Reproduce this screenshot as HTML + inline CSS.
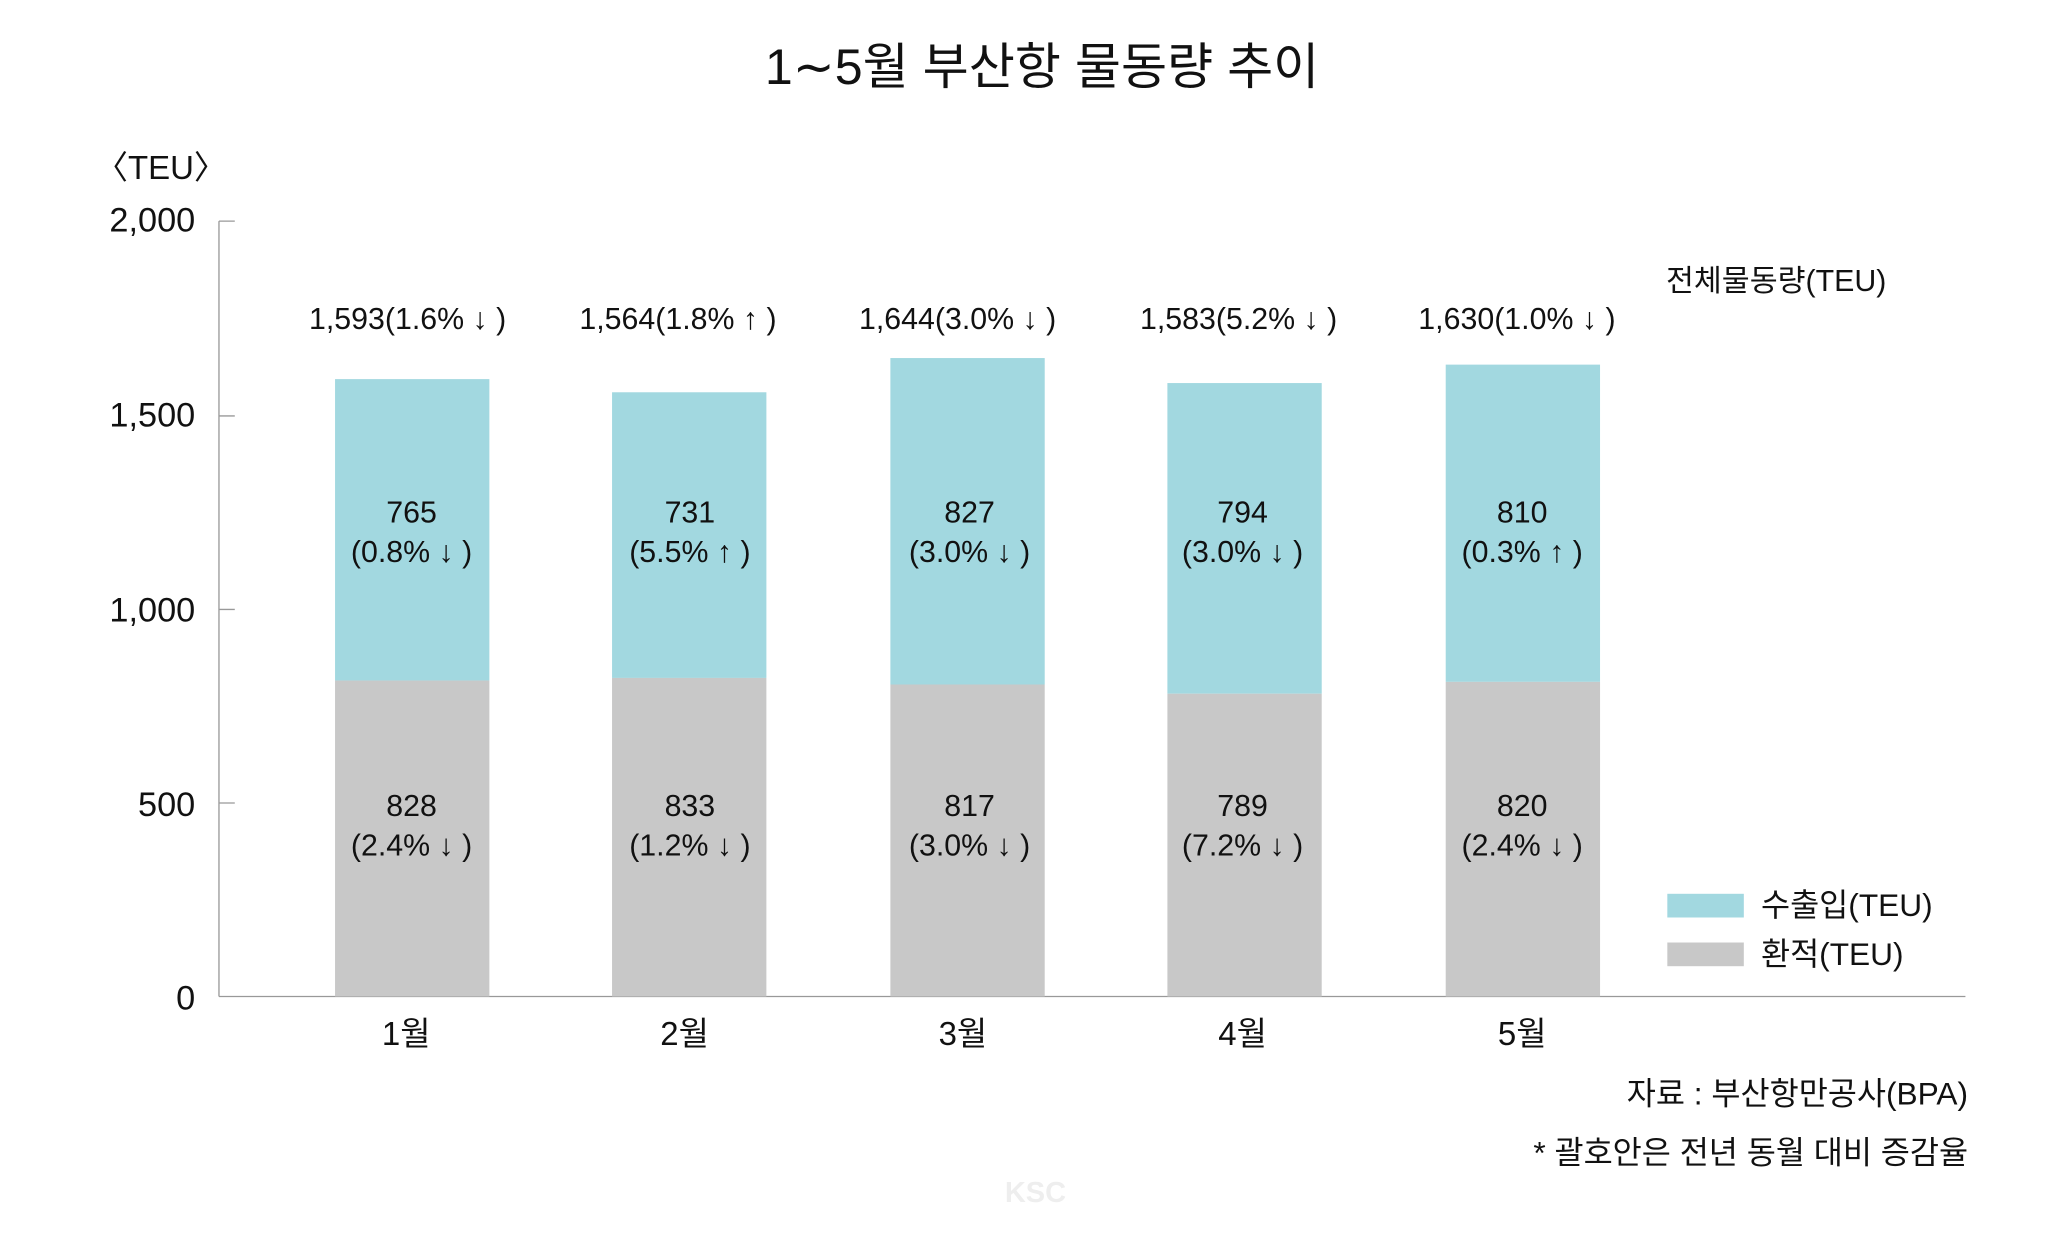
<!DOCTYPE html>
<html><head><meta charset="utf-8"><style>
html,body{margin:0;padding:0;background:#fff;}
svg{display:block;}
text{font-family:"Liberation Sans","Noto Sans CJK KR",sans-serif;fill:#111;}
</style></head><body>
<svg width="2067" height="1240" viewBox="0 0 1567 942" preserveAspectRatio="none" xmlns="http://www.w3.org/2000/svg">
<text x="790" y="64" font-size="38" text-anchor="middle">1∼5월 부산항 물동량 추이</text>
<text x="72" y="136" font-size="25">〈TEU〉</text>
<g font-size="26" text-anchor="end">
<text x="148" y="176">2,000</text>
<text x="148" y="324">1,500</text>
<text x="148" y="472">1,000</text>
<text x="148" y="620">500</text>
<text x="148" y="767">0</text>
</g>
<g stroke="#999" stroke-width="1">
<line x1="166" y1="168" x2="166" y2="757"/>
<line x1="166" y1="757" x2="1490" y2="757"/>
<line x1="166" y1="168" x2="178" y2="168"/>
<line x1="166" y1="316" x2="178" y2="316"/>
<line x1="166" y1="463" x2="178" y2="463"/>
<line x1="166" y1="610" x2="178" y2="610"/>
</g>
<g>
<rect x="254" y="288" width="117" height="229" fill="#a2d8e0"/><rect x="254" y="517" width="117" height="240" fill="#c8c8c8"/>
<rect x="464" y="298" width="117" height="217" fill="#a2d8e0"/><rect x="464" y="515" width="117" height="242" fill="#c8c8c8"/>
<rect x="675" y="272" width="117" height="248" fill="#a2d8e0"/><rect x="675" y="520" width="117" height="237" fill="#c8c8c8"/>
<rect x="885" y="291" width="117" height="236" fill="#a2d8e0"/><rect x="885" y="527" width="117" height="230" fill="#c8c8c8"/>
<rect x="1096" y="277" width="117" height="241" fill="#a2d8e0"/><rect x="1096" y="518" width="117" height="239" fill="#c8c8c8"/>
</g>
<g font-size="23" text-anchor="middle">
<text x="309" y="250">1,593(1.6% ↓ )</text>
<text x="514" y="250">1,564(1.8% ↑ )</text>
<text x="726" y="250">1,644(3.0% ↓ )</text>
<text x="939" y="250">1,583(5.2% ↓ )</text>
<text x="1150" y="250">1,630(1.0% ↓ )</text>
<text x="312" y="397">765</text><text x="312" y="427">(0.8% ↓ )</text>
<text x="523" y="397">731</text><text x="523" y="427">(5.5% ↑ )</text>
<text x="735" y="397">827</text><text x="735" y="427">(3.0% ↓ )</text>
<text x="942" y="397">794</text><text x="942" y="427">(3.0% ↓ )</text>
<text x="1154" y="397">810</text><text x="1154" y="427">(0.3% ↑ )</text>
<text x="312" y="620">828</text><text x="312" y="650">(2.4% ↓ )</text>
<text x="523" y="620">833</text><text x="523" y="650">(1.2% ↓ )</text>
<text x="735" y="620">817</text><text x="735" y="650">(3.0% ↓ )</text>
<text x="942" y="620">789</text><text x="942" y="650">(7.2% ↓ )</text>
<text x="1154" y="620">820</text><text x="1154" y="650">(2.4% ↓ )</text>
</g>
<g font-size="25" text-anchor="middle">
<text x="308" y="794">1월</text><text x="519" y="794">2월</text><text x="730" y="794">3월</text><text x="942" y="794">4월</text><text x="1154" y="794">5월</text>
</g>
<text x="1263" y="221" font-size="23">전체물동량(TEU)</text>
<rect x="1264" y="679" width="58" height="18" fill="#a2d8e0"/>
<text x="1335" y="696" font-size="24">수출입(TEU)</text>
<rect x="1264" y="716" width="58" height="18" fill="#c8c8c8"/>
<text x="1335" y="733" font-size="24">환적(TEU)</text>
<text x="1492" y="839" font-size="24" text-anchor="end">자료 : 부산항만공사(BPA)</text>
<text x="1492" y="884" font-size="24" text-anchor="end">* 괄호안은 전년 동월 대비 증감율</text>
<text x="785" y="913" font-size="22" text-anchor="middle" font-weight="bold" style="fill:#eee">KSC</text>
</svg>
</body></html>
